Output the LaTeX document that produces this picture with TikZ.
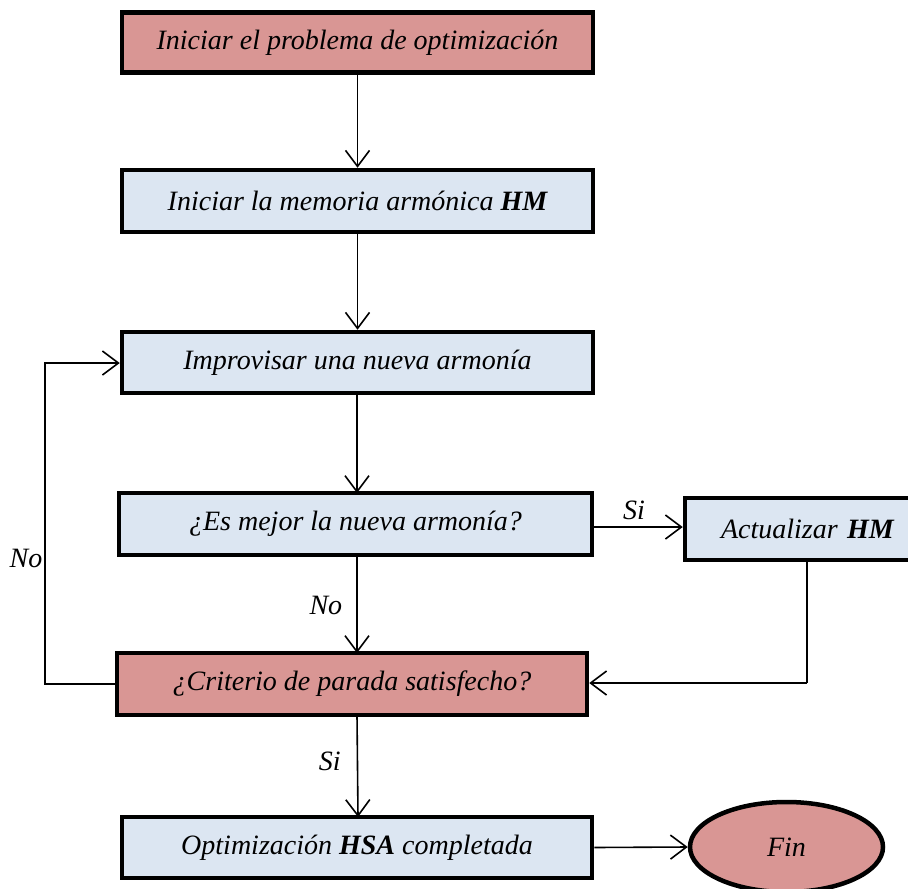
\documentclass[tikz,border=0pt]{standalone}
\usepackage{fontspec}
\setmainfont{Liberation Serif}
\usetikzlibrary{arrows.meta,shapes.geometric}
\definecolor{boxred}{HTML}{D99694}
\definecolor{boxblue}{HTML}{DCE6F2}
\begin{document}
\begin{tikzpicture}[x=1pt,y=-1pt,
  every node/.style={font=\fontsize{28}{33}\selectfont\itshape},
  box/.style={draw=black,line width=4.5pt,rectangle,minimum height=60pt,inner sep=0pt},
  redbox/.style={box,fill=boxred},
  bluebox/.style={box,fill=boxblue},
  conn/.style={line width=1.6pt,-{Straight Barb[length=16pt,width=24pt,line width=1.6pt]}},
  plain/.style={line width=1.6pt},
  lbl/.style={inner sep=0pt}]
\useasboundingbox (0,0) rectangle (908,889);
\node[redbox,minimum width=471pt] (b1) at (357.5,42.5) {Iniciar el problema de optimización};
\node[bluebox,minimum width=471pt,minimum height=62pt] (b2) at (357.5,201) {Iniciar la memoria armónica \textbf{HM}};
\node[bluebox,minimum width=471pt,minimum height=61pt] (b3) at (357.5,362.5) {Improvisar una nueva armonía};
\node[bluebox,minimum width=473pt,minimum height=62pt] (b4) at (355.5,524) {¿Es mejor la nueva armonía?};
\node[redbox,minimum width=470pt,minimum height=62pt] (b5) at (352,684) {¿Criterio de parada satisfecho?};
\node[bluebox,minimum width=470pt,minimum height=61pt] (b6) at (357,847.5) {Optimización \textbf{HSA} completada};
\node[bluebox,minimum width=240pt,minimum height=62pt,text width=240pt,align=left] (act) at (805,529) {\hspace*{36pt}Actualizar \textbf{HM}};
\node[draw=black,line width=4.5pt,ellipse,fill=boxred,minimum width=193pt,minimum height=90pt,inner sep=0pt] (fin) at (786.5,847) {Fin};

\draw[conn] (b1.south) -- (b2.north);
\draw[conn] (b2.south) -- (b3.north);
\draw[conn] (b3.south -| 357,0) -- (357,493);
\draw[conn] (b4.south -| 357,0) -- (357,653) node[pos=0.5,left=14pt,lbl] {No};
\draw[conn] (357,715) -- (358,817) node[pos=0.45,left=16pt,lbl] {Si};
\draw[conn] (b4.east |- 0,527) -- (act.west |- 0,527) node[pos=0.45,above=6pt,lbl] {Si};
\coordinate (c1) at (807,683);
\draw[plain] (807,560) -- (c1);
\draw[conn] (c1) -- (b5.east |- c1);
\coordinate (l1) at (45,684);
\coordinate (l2) at (45,363);
\draw[conn] (b5.west) -- (l1) -- (l2) -- (b3.west |- l2);
\node[lbl] at (26,558) {No};
\draw[conn] (b6.east) -- (fin.west);
\end{tikzpicture}
\end{document}
